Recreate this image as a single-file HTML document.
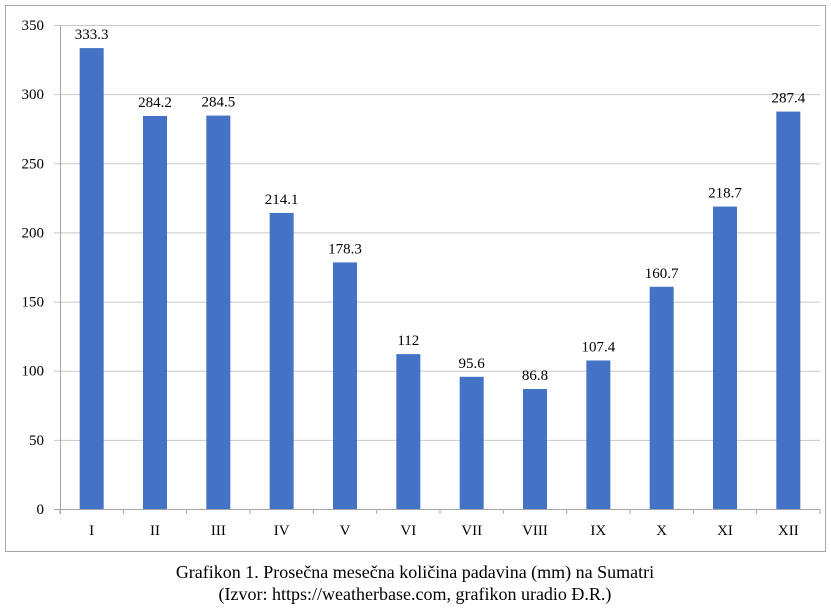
<!DOCTYPE html>
<html><head><meta charset="utf-8"><style>
body{margin:0;background:#fff;}
svg{display:block;font-family:"Liberation Serif",serif;}
</style></head><body>
<svg width="831" height="611">
<rect x="5.5" y="5.5" width="820" height="546" fill="#fff" stroke="#a6a6a6"/>
<g id="grid"></g><g id="bars"></g><g id="labels"></g>
<text x="415" y="578" text-anchor="middle" font-size="18">Grafikon 1. Prosečna mesečna količina padavina (mm) na Sumatri</text>
<text x="415" y="600" text-anchor="middle" font-size="18">(Izvor: https://weatherbase.com, grafikon uradio Đ.R.)</text>
</svg>
<script>
const categories=["I","II","III","IV","V","VI","VII","VIII","IX","X","XI","XII"];
const values=[333.3,284.2,284.5,214.1,178.3,112,95.6,86.8,107.4,160.7,218.7,287.4];
const valueLabels=["333.3","284.2","284.5","214.1","178.3","112","95.6","86.8","107.4","160.7","218.7","287.4"];
const yTicks=[0,50,100,150,200,250,300,350];
const NS="http://www.w3.org/2000/svg";
const x0=60,x1=820,y0=509,yTop=25,yMax=350;
const band=(x1-x0)/categories.length;
const y=v=>y0-(v/yMax)*(y0-yTop);
const xc=i=>x0+band*(i+0.5);
function mk(t,a,parent){const e=document.createElementNS(NS,t);for(const k in a)e.setAttribute(k,a[k]);document.getElementById(parent).appendChild(e);return e;}
yTicks.forEach(t=>{
  const l=mk("line",{x1:54,x2:x1,y1:y(t)+0.5,y2:y(t)+0.5,stroke:t===0?"#a6a6a6":"#c8c8c8"},"grid");
  
  
  const tx=mk("text",{x:44,y:y(t)+5,"text-anchor":"end","font-size":15},"grid");
  tx.textContent=t;
  
  
});
mk("line",{x1:x0+0.5,x2:x0+0.5,y1:yTop,y2:y0+5,stroke:"#a6a6a6"},"grid");
for(let i=0;i<=categories.length;i++){
  const tk=mk("line",{x1:x0+band*i,x2:x0+band*i,y1:y0,y2:y0+5,stroke:"#a6a6a6"},"grid");
  
  
}
categories.forEach((c,i)=>{
  const b=mk("rect",{x:xc(i)-12,y:y(values[i]),width:24,height:y0-y(values[i]),fill:"#4472c4"},"bars");
  
  
  const lb=mk("text",{x:xc(i),y:y(values[i])-9,"text-anchor":"middle","font-size":15},"labels");
  lb.textContent=valueLabels[i];
  
  
  const cl=mk("text",{x:xc(i),y:y0+26,"text-anchor":"middle","font-size":15},"labels");
  cl.textContent=c;
  
  
});
</script>
</body></html>
